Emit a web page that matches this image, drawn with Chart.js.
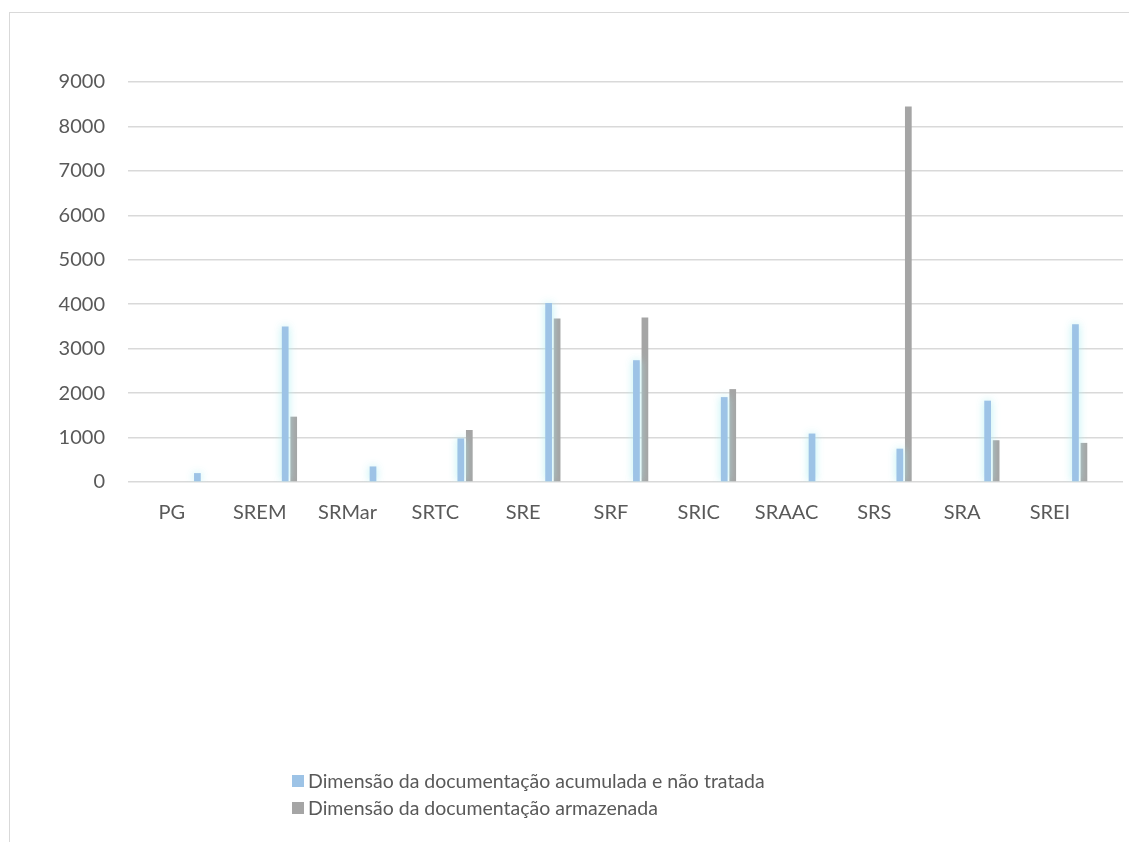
<!DOCTYPE html>
<html><head><meta charset="utf-8">
<script src="https://cdn.jsdelivr.net/npm/chart.js@4.4.1/dist/chart.umd.min.js"></script>
<style>
html,body{margin:0;padding:0;background:#fff;width:1129px;height:842px;overflow:hidden;}
#frame{position:absolute;left:9px;top:12px;width:1200px;height:900px;border-left:1px solid #D9D9D9;border-top:1px solid #D9D9D9;}
#wrap{position:absolute;left:0;top:0;width:1129px;height:842px;}
#legend{position:absolute;left:292px;top:767px;font-family:Lato,"Open Sans",sans-serif;font-size:19.5px;color:#595959;}
.item{display:flex;align-items:center;height:27px;white-space:nowrap;}
.sw{width:12px;height:12px;margin-right:4px;flex:none;}
</style></head><body>
<div id="frame"></div>
<div id="wrap"><canvas id="c" width="1129" height="842"></canvas></div>
<div id="legend"></div>
<script>
// ---- data ----
const categories = ['PG','SREM','SRMar','SRTC','SRE','SRF','SRIC','SRAAC','SRS','SRA','SREI'];
const seriesNames = ['Dimensão da documentação acumulada e não tratada','Dimensão da documentação armazenada'];
const accumulated = [200, 3500, 350, 980, 4030, 2740, 1910, 1090, 750, 1830, 3550];
const stored      = [null, 1470, null, 1170, 3680, 3700, 2090, null, 8450, 940, 880];
const yTickValues = [0,1000,2000,3000,4000,5000,6000,7000,8000,9000];
const emptySeriesCount = 7; // series present in the source chart but without values

// ---- styles ----
const BLUE = '#9DC3E6', GREY = '#A5A5A5', TEXT = '#595959', GRID = '#D9D9D9';
const FONT = {family: 'Lato, "Open Sans", sans-serif', size: 20};

const datasets = [];
for (let i = 0; i < emptySeriesCount; i++) datasets.push({label: '', data: [], backgroundColor: 'rgba(0,0,0,0)'});
datasets.push({label: seriesNames[0], data: accumulated, backgroundColor: BLUE, glow: true});
datasets.push({label: seriesNames[1], data: stored, backgroundColor: GREY});

const glowPlugin = {
  id: 'glow',
  beforeDatasetDraw(chart, args) {
    if (chart.data.datasets[args.index].glow) {
      const ctx = chart.ctx; ctx.save();
      ctx.shadowColor = 'rgba(175,238,242,0.9)'; ctx.shadowBlur = 8;
    }
  },
  afterDatasetDraw(chart, args) {
    if (chart.data.datasets[args.index].glow) chart.ctx.restore();
  }
};

const chart = new Chart(document.getElementById('c'), {
  type: 'bar',
  data: { labels: categories.map((c, i) => i), datasets },
  plugins: [glowPlugin],
  options: {
    responsive: false,
    animation: false,
    layout: { padding: { left: 0, right: 6, top: 82, bottom: 300 } },
    datasets: { bar: { categoryPercentage: 0.871, barPercentage: 0.79 } },
    plugins: { legend: { display: false }, tooltip: { enabled: false } },
    scales: {
      x: {
        type: 'linear',
        offset: false,
        min: -0.5,
        max: 10.832,
        grid: { display: false },
        border: { display: false },
        afterBuildTicks: (axis) => { axis.ticks = categories.map((c, i) => ({value: i})); },
        afterFit: (axis) => { axis.height = 60; },
        ticks: {
          autoSkip: false, maxRotation: 0, padding: 11,
          color: TEXT, font: FONT,
          callback: (v) => categories[v]
        }
      },
      y: {
        min: 0, max: 9000,
        grid: { color: GRID, lineWidth: 1.5, drawTicks: false },
        border: { display: false },
        afterBuildTicks: (axis) => { axis.ticks = yTickValues.map(v => ({value: v})); },
        afterFit: (axis) => { axis.width = 128; },
        ticks: { padding: 23, color: TEXT, font: FONT, callback: (v) => String(v) }
      }
    }
  }
});

// legend as HTML text, built from the chart's datasets
const legendEl = document.getElementById('legend');
chart.data.datasets.filter(d => d.label).forEach(d => {
  const row = document.createElement('div'); row.className = 'item';
  const sw = document.createElement('span'); sw.className = 'sw'; sw.style.background = d.backgroundColor;
  const tx = document.createElement('span'); tx.textContent = d.label;
  row.appendChild(sw); row.appendChild(tx); legendEl.appendChild(row);
});
</script>
</body></html>
